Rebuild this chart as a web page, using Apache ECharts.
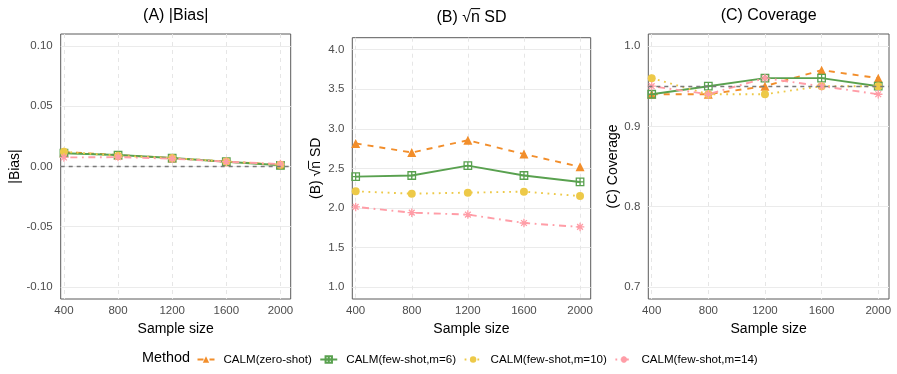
<!DOCTYPE html>
<html><head><meta charset="utf-8">
<script src="https://cdn.jsdelivr.net/npm/echarts@6/dist/echarts.min.js"></script>
<style>html,body{margin:0;padding:0;background:#fff}#c{width:897px;height:374px}</style>
</head><body><div id="c"></div>
<script>
// ---- data ----
const sampleSizes = [400, 800, 1200, 1600, 2000];
const methods = ['CALM(zero-shot)', 'CALM(few-shot,m=6)', 'CALM(few-shot,m=10)', 'CALM(few-shot,m=14)'];

const biasZeroShot = [0.0120, 0.0095, 0.0070, 0.0040, 0.0015];
const biasM6       = [0.0110, 0.0095, 0.0070, 0.0040, 0.0010];
const biasM10      = [0.0122, 0.0090, 0.0070, 0.0042, 0.0015];
const biasM14      = [0.0075, 0.0078, 0.0065, 0.0040, 0.0020];

const sdZeroShot = [2.815, 2.700, 2.855, 2.680, 2.520];
const sdM6       = [2.395, 2.410, 2.535, 2.410, 2.328];
const sdM10      = [2.210, 2.180, 2.193, 2.206, 2.150];
const sdM14      = [2.013, 1.940, 1.916, 1.810, 1.760];

const covZeroShot = [0.94, 0.94, 0.95, 0.97, 0.96];
const covM6       = [0.94, 0.95, 0.96, 0.96, 0.95];
const covM10      = [0.96, 0.94, 0.94, 0.95, 0.95];
const covM14      = [0.95, 0.94, 0.96, 0.95, 0.94];

const xTicks = [400, 800, 1200, 1600, 2000];
const biasTicks = [-0.10, -0.05, 0.00, 0.05, 0.10];
const sdTicks = [1.0, 1.5, 2.0, 2.5, 3.0, 3.5, 4.0];
const covTicks = [0.7, 0.8, 0.9, 1.0];
const biasRef = 0;
const covRef = 0.95;

// ---- styles ----
const FONT = 'Liberation Sans, Arial, sans-serif';
const colors = ['#F28E2B', '#59A14F', '#EDC948', '#FF9DA7'];
const dashes = [[6, 6], 'solid', [1.8, 4.6], [1.8, 4.6, 7, 4.6]];
const symbols = [
  'triangle',
  'path://M0,0H10V10H0ZM5,0V10M0,5H10',
  'circle',
  'path://M5,0V10M0,5H10M1.6,1.6L8.4,8.4M8.4,1.6L1.6,8.4'
];
const symSizes = [9, 7.5, 8, 8.5];
const filled = [true, false, true, false];

const panels = [
  {title: '(A) |Bias|', yname: '|Bias|', data: [biasZeroShot, biasM6, biasM10, biasM14], ticks: biasTicks, min: -0.11, max: 0.11, dec: 2, ref: biasRef,
   grid: {left: 60.7, top: 34, width: 230, height: 265}, nameGap: 37, titleY: 15.5},
  {title: '(B) \u221An\u0305 SD', yname: '(B) \u221An\u0305 SD', data: [sdZeroShot, sdM6, sdM10, sdM14], ticks: sdTicks, min: 0.85, max: 4.15, dec: 1, ref: null,
   grid: {left: 352.3, top: 37.7, width: 238.4, height: 261.3}, nameGap: 29, titleY: 17.5},
  {title: '(C) Coverage', yname: '(C) Coverage', data: [covZeroShot, covM6, covM10, covM14], ticks: covTicks, min: 0.685, max: 1.015, dec: 1, ref: covRef,
   grid: {left: 648.3, top: 34, width: 240.7, height: 265}, nameGap: 25, titleY: 15.5}
];

const grids = [], xAxes = [], yAxes = [], series = [], graphics = [];
panels.forEach((p, gi) => {
  grids.push(Object.assign({show: true, borderColor: '#5a5a5a', borderWidth: 1, backgroundColor: '#fff'}, p.grid));
  xAxes.push({
    type: 'value', gridIndex: gi, min: 376, max: 2076,
    name: 'Sample size', nameLocation: 'middle', nameGap: 19,
    nameTextStyle: {fontSize: 14, color: '#000', fontFamily: FONT},
    axisLine: {show: false}, axisTick: {show: false, customValues: xTicks},
    axisLabel: {customValues: xTicks, fontSize: 11.5, color: '#4d4d4d', fontFamily: FONT, margin: 6,
      formatter: v => String(v)},
    splitLine: {show: true, lineStyle: {color: '#e6e6e6', width: 1, type: [4, 4]}}
  });
  yAxes.push({
    type: 'value', gridIndex: gi, min: p.min, max: p.max,
    name: p.yname, nameLocation: 'middle', nameGap: p.nameGap, nameRotate: 90,
    nameTextStyle: {fontSize: 14, color: '#000', fontFamily: FONT},
    axisLine: {show: false}, axisTick: {show: false, customValues: p.ticks},
    axisLabel: {customValues: p.ticks, fontSize: 11.5, color: '#4d4d4d', fontFamily: FONT, margin: 8,
      formatter: v => Number(v).toFixed(p.dec)},
    splitLine: {show: true, lineStyle: {color: '#ebebeb', width: 1, type: 'solid'}}
  });
  p.data.forEach((vals, si) => {
    const s = {
      type: 'line', name: methods[si], xAxisIndex: gi, yAxisIndex: gi,
      data: sampleSizes.map((x, i) => [x, vals[i]]),
      symbol: symbols[si], symbolSize: symSizes[si], showSymbol: true,
      lineStyle: {color: colors[si], width: 1.9, type: dashes[si]},
      itemStyle: filled[si] ? {color: colors[si], borderWidth: 0}
                            : {color: 'rgba(255,255,255,0)', borderColor: colors[si], borderWidth: 1.3},
      emphasis: {disabled: true}, animation: false, z: 3
    };
    if (si === 0 && p.ref !== null) {
      s.markLine = {silent: true, symbol: ['none', 'none'], label: {show: false},
        lineStyle: {color: '#7a7a7a', type: [4, 4], width: 1.3}, data: [{yAxis: p.ref}], animation: false};
    }
    series.push(s);
  });
  graphics.push({type: 'text', x: p.grid.left + p.grid.width / 2, y: p.titleY,
    style: {text: p.title, fontSize: 16, fontFamily: FONT, fill: '#000', align: 'center', verticalAlign: 'middle'}});
});
graphics.push({type: 'text', x: 142, y: 358,
  style: {text: 'Method', fontSize: 14.4, fontFamily: FONT, fill: '#000', align: 'left', verticalAlign: 'middle'}});

const chart = echarts.init(document.getElementById('c'), null, {renderer: 'canvas'});
chart.setOption({
  animation: false,
  backgroundColor: '#fff',
  grid: grids, xAxis: xAxes, yAxis: yAxes, series: series,
  legend: {data: methods, left: 196.5, top: 353.5, padding: 0, itemWidth: 17, itemHeight: 8, itemGap: 7.5,
    textStyle: {fontSize: 11.6, fontFamily: FONT, color: '#000', padding: [0, 0, 0, 4]}, selectedMode: false},
  graphic: graphics
});
</script></body></html>
